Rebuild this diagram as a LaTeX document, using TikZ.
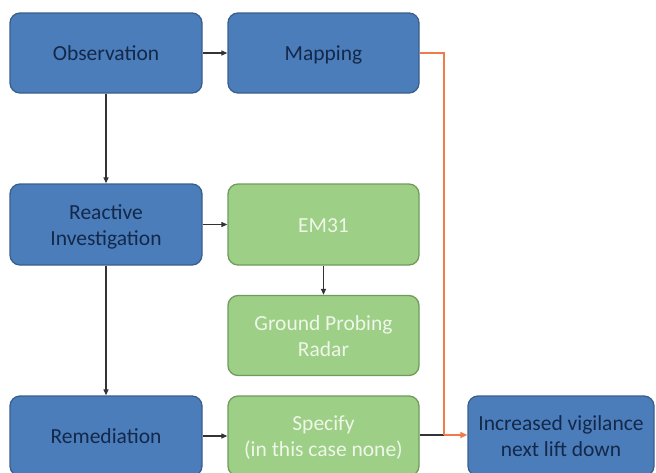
\documentclass[tikz,border=0pt]{standalone}
\usepackage{fontspec}
\setmainfont{Carlito}
\usetikzlibrary{arrows.meta}
\definecolor{bfill}{HTML}{4A7DBA}
\definecolor{bdraw}{HTML}{3A5F8C}
\definecolor{btext}{HTML}{14284A}
\definecolor{gfill}{HTML}{9DCF86}
\definecolor{gdraw}{HTML}{6F9C5B}
\definecolor{gtext}{HTML}{EEF7E8}
\definecolor{orng}{HTML}{F07A4A}
\begin{document}
\begin{tikzpicture}[x=1pt,y=-1pt,
  box/.style={rounded corners=10pt, line width=1.3pt, inner sep=0pt,
    text height=17pt, text depth=2pt,
    font=\fontsize{21.5}{26}\selectfont, align=center},
  twolines/.style={text height=43pt},
  bluebox/.style={box, fill=bfill, draw=bdraw, text=btext},
  greenbox/.style={box, fill=gfill, draw=gdraw, text=gtext},
  conn/.style={line width=1.2pt, draw=black!80, -{Triangle[length=6pt,width=5pt]}},
  oconn/.style={line width=1.3pt, draw=orng}]
\useasboundingbox (0,0) rectangle (656,472);
\begin{scope}
\clip (0,0) rectangle (656,472);
\node[bluebox, minimum width=192pt, minimum height=80pt] (obs) at (106,53) {Observation};
\node[bluebox, minimum width=191pt, minimum height=80pt] (map) at (323.5,53) {Mapping};
\node[bluebox, twolines, minimum width=192pt, minimum height=81pt] (rea) at (106,224.5) {Reactive\\Investigation};
\node[greenbox, minimum width=191pt, minimum height=81pt] (em) at (323.5,224.5) {EM31};
\node[greenbox, twolines, minimum width=191pt, minimum height=80pt] (gpr) at (323.5,335.5) {Ground Probing\\Radar};
\node[bluebox, minimum width=192pt, minimum height=80pt] (rem) at (106,436) {Remediation};
\node[greenbox, twolines, minimum width=191pt, minimum height=80pt] (spe) at (323.5,436) {Specify\\(in this case none)};
\node[bluebox, twolines, minimum width=186pt, minimum height=80pt] (vig) at (561,436) {Increased vigilance\\next lift down};
\end{scope}
\coordinate (j) at (444,435);
\draw[conn] (obs) -- (map);
\draw[conn] (obs) -- (rea);
\draw[conn] (rea) -- (em);
\draw[conn] (em) -- (gpr);
\draw[conn] (rea) -- (rem);
\draw[conn] (rem) -- (spe);
\draw[line width=1.2pt, draw=black!80] (spe.east |- j) -- (j);
\draw[oconn] (map.east) -| (j);
\draw[oconn, -{Triangle[length=7pt,width=6pt]}] (j) -- (vig.west |- j);
\end{tikzpicture}
\end{document}
